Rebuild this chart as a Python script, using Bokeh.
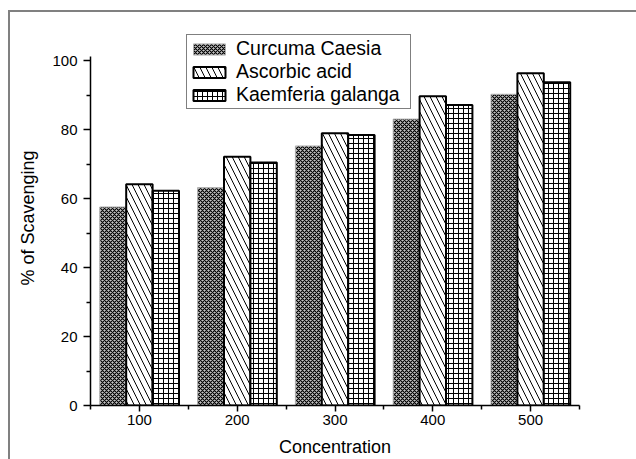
from bokeh.plotting import figure
from bokeh.models import Range1d, FixedTicker, Legend, LegendItem, ColumnDataSource
from bokeh.transform import dodge
from bokeh.embed import file_html
from bokeh.resources import INLINE

# ---- data ----
concentration = [100, 200, 300, 400, 500]
curcuma_caesia = [57.6, 63.2, 75.3, 83.1, 90.3]
ascorbic_acid = [64.2, 72.2, 79.0, 89.7, 96.4]
kaemferia_galanga = [62.3, 70.5, 78.5, 87.2, 93.8]
series_names = ["Curcuma Caesia", "Ascorbic acid", "Kaemferia galanga"]
x_major_ticks = [100, 200, 300, 400, 500]
x_minor_ticks = [50, 150, 250, 350, 450, 550]
y_major_ticks = [0, 20, 40, 60, 80, 100]
y_minor_ticks = [10, 30, 50, 70, 90]

src = ColumnDataSource(dict(conc=concentration, cc=curcuma_caesia,
                            aa=ascorbic_acid, kg=kaemferia_galanga))

FONT = "Liberation Sans"

p = figure(width=636, height=459, output_backend="svg", toolbar_location=None,
           x_range=Range1d(50, 550), y_range=Range1d(0, 108.8),
           min_border_left=90, min_border_right=57, min_border_top=30,
           min_border_bottom=51)

p.xgrid.visible = False
p.ygrid.visible = False
p.outline_line_color = None
p.border_fill_color = None
p.background_fill_color = "white"
p.styles = {
    "background-image": "linear-gradient(#808080,#808080), linear-gradient(#808080,#808080)",
    "background-size": "100% 2px, 2px 100%",
    "background-position": "8px 10px, 8px 10px",
    "background-repeat": "no-repeat",
}

BW = 27
r1 = p.vbar(x=dodge("conc", -BW, range=p.x_range), top="cc", width=BW, source=src,
            fill_color="#c4c4c4", hatch_pattern="diagonal_cross", hatch_scale=4,
            hatch_weight=1.1, hatch_color="black", line_color="#b0b0b0", line_width=1)
r2 = p.vbar(x="conc", top="aa", width=BW, source=src,
            fill_color="white", hatch_pattern="left_diagonal_line", hatch_scale=12,
            hatch_weight=1, hatch_color="black", line_color="black", line_width=2)
r3 = p.vbar(x=dodge("conc", BW, range=p.x_range), top="kg", width=BW, source=src,
            fill_color="white", hatch_pattern="cross", hatch_scale=5,
            hatch_weight=1, hatch_color="black", line_color="black", line_width=2)

xa = p.xaxis[0]
ya = p.yaxis[0]
xa.ticker = FixedTicker(ticks=x_major_ticks, minor_ticks=x_minor_ticks)
ya.ticker = FixedTicker(ticks=y_major_ticks, minor_ticks=y_minor_ticks)
ya.bounds = (0, 101.4)
xa.axis_label = "Concentration"
ya.axis_label = "% of Scavenging"
for ax in (xa, ya):
    ax.axis_line_width = 1.5
    ax.axis_line_color = "black"
    ax.major_tick_line_width = 1.5
    ax.minor_tick_line_width = 1.5
    ax.major_tick_line_color = "black"
    ax.minor_tick_line_color = "black"
    ax.major_tick_in = 0
    ax.minor_tick_in = 0
    ax.minor_tick_out = 4
    ax.major_label_text_font = FONT
    ax.major_label_text_font_size = "15px"
    ax.major_label_text_color = "black"
    ax.axis_label_text_font = FONT
    ax.axis_label_text_font_size = "18px"
    ax.axis_label_text_font_style = "normal"
    ax.axis_label_text_color = "black"
xa.major_tick_out = 6
ya.major_tick_out = 7
xa.major_label_standoff = 3
ya.major_label_standoff = 6
xa.axis_label_standoff = 9
ya.axis_label_standoff = 11

legend = Legend(items=[LegendItem(label=series_names[0], renderers=[r1]),
                       LegendItem(label=series_names[1], renderers=[r2]),
                       LegendItem(label=series_names[2], renderers=[r3])],
                location=(96, 296))
legend.border_line_color = "black"
legend.border_line_width = 1
legend.background_fill_color = "white"
legend.background_fill_alpha = 1
legend.padding = 2
legend.spacing = 0
legend.margin = 0
legend.glyph_width = 40
legend.glyph_height = 14
legend.label_height = 18
legend.label_width = 172
legend.label_standoff = 7
legend.label_text_font = FONT
legend.label_text_font_size = "19.5px"
legend.label_text_color = "black"
p.add_layout(legend)

open("out.html", "w").write(file_html(p, INLINE))
